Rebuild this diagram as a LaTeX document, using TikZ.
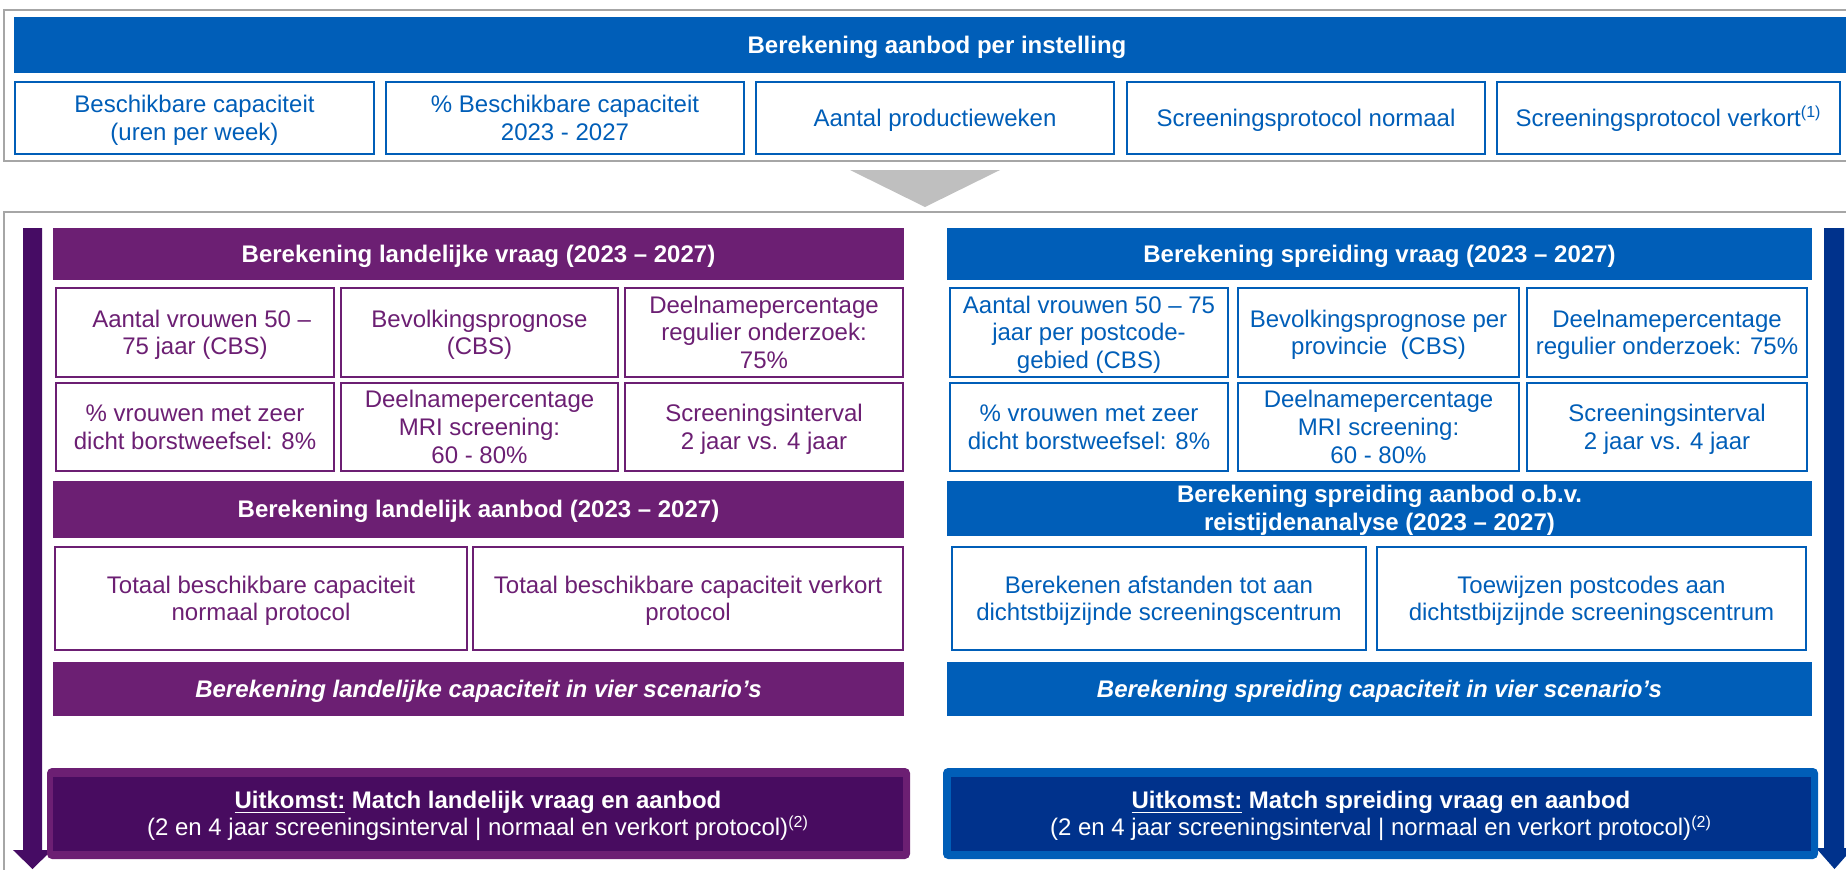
\documentclass[tikz,border=0pt]{standalone}
\usepackage{fontspec}
\setmainfont{Liberation Sans}
\definecolor{cblue}{RGB}{0,94,184}
\definecolor{cpurple}{RGB}{108,31,115}
\definecolor{cdpurple}{RGB}{72,12,96}
\definecolor{carrowp}{RGB}{70,12,100}
\definecolor{cdblue}{RGB}{0,50,140}
\definecolor{cgray}{RGB}{166,166,166}
\definecolor{cchev}{RGB}{191,191,191}
\newcommand{\pstrut}{\rule[-2.5pt]{0pt}{13.4pt}}
\newcommand{\ulk}[1]{\underline{#1}}
\newcommand{\bx}[7]{\node[#1, anchor=north west, minimum width={(#5-#3)*0.5pt}, minimum height={(#6-#4)*0.5pt}] (#2) at (#3,#4) {#7};}
\begin{document}
\begin{tikzpicture}[x=0.5pt,y=-0.5pt,
  every node/.style={inner sep=0pt, outer sep=0pt, align=center, font=\fontsize{12}{13.8}\selectfont},
  frame/.style={draw=cgray, line width=1pt},
  bhead/.style={fill=cblue, text=white, font=\fontsize{12}{14}\selectfont\bfseries},
  phead/.style={fill=cpurple, text=white, font=\fontsize{12}{14}\selectfont\bfseries},
  bital/.style={fill=cblue, text=white, font=\fontsize{12}{14}\selectfont\bfseries\itshape},
  pital/.style={fill=cpurple, text=white, font=\fontsize{12}{14}\selectfont\bfseries\itshape},
  bbox/.style={draw=cblue, line width=1.2pt, fill=white, text=cblue},
  pbox/.style={draw=cpurple, line width=1.2pt, fill=white, text=cpurple},
  outer/.style={rounded corners=2.5pt},
  inner/.style={text=white, font=\fontsize{12}{13.5}\selectfont}
]
\useasboundingbox (0,0) rectangle (1846,869);
% frames
\bx{frame}{topframe}{4}{10}{1870}{161}{}
\bx{frame}{lowframe}{4}{212}{1870}{900}{}
% top section
\bx{bhead}{h0}{14}{17}{1860}{73}{\pstrut Berekening aanbod per instelling\pstrut}
\bx{bbox}{t1}{15}{82}{374}{154}{\pstrut Beschikbare capaciteit\\(uren per week)\pstrut}
\bx{bbox}{t2}{386}{82}{744}{154}{\pstrut\% Beschikbare capaciteit\\2023 - 2027\pstrut}
\bx{bbox}{t3}{756}{82}{1114}{154}{\pstrut Aantal productieweken\pstrut}
\bx{bbox}{t4}{1127}{82}{1485}{154}{\pstrut Screeningsprotocol normaal\pstrut}
\bx{bbox}{t5}{1497}{82}{1840}{154}{\pstrut Screeningsprotocol verkort\textsuperscript{(1)}\pstrut}
% chevron
\fill[cchev] (850,170) -- (1000,170) -- (925,207) -- cycle;
% side arrows
\fill[carrowp] (23,228) -- (42,228) -- (42,850) -- (52,850) -- (32.5,869) -- (13,850) -- (23,850) -- cycle;
\fill[cdblue] (1824,228) -- (1844,228) -- (1844,848) -- (1853,848) -- (1834.5,869) -- (1816,848) -- (1824,848) -- cycle;
% left column
\bx{phead}{lh1}{53}{228}{904}{280}{\pstrut Berekening landelijke vraag (2023 – 2027)\pstrut}
\bx{pbox}{la1}{56}{288}{334}{377}{\pstrut\ \ Aantal vrouwen 50 –\\75 jaar (CBS)\pstrut}
\bx{pbox}{la2}{341}{288}{618}{377}{\pstrut Bevolkingsprognose\\(CBS)\pstrut}
\bx{pbox}{la3}{625}{288}{903}{377}{\pstrut Deelnamepercentage\\regulier onderzoek:\\75\%\pstrut}
\bx{pbox}{lb1}{56}{383}{334}{471}{\pstrut\% vrouwen met zeer\\dicht borstweefsel: 8\%\pstrut}
\bx{pbox}{lb2}{341}{383}{618}{471}{\pstrut Deelnamepercentage\\MRI screening:\\60 - 80\%\pstrut}
\bx{pbox}{lb3}{625}{383}{903}{471}{\pstrut Screeningsinterval\\2 jaar vs. 4 jaar\pstrut}
\bx{phead}{lh2}{53}{481}{904}{538}{\pstrut Berekening landelijk aanbod (2023 – 2027)\pstrut}
\bx{pbox}{lc1}{55}{547}{467}{650}{\pstrut Totaal beschikbare capaciteit\\normaal protocol\pstrut}
\bx{pbox}{lc2}{473}{547}{903}{650}{\pstrut Totaal beschikbare capaciteit verkort\\protocol\pstrut}
\bx{pital}{li}{53}{662}{904}{716}{\pstrut Berekening landelijke capaciteit in vier scenario’s\pstrut}
\bx{outer, fill=cpurple}{lo}{47}{768}{910}{859}{}
\bx{inner, fill=cdpurple}{loi}{53}{777}{903}{851}{\pstrut{\bfseries\ulk{Uitkomst:} Match landelijk vraag en aanbod}\\(2 en 4 jaar screeningsinterval | normaal en verkort protocol)\textsuperscript{(2)}\pstrut}
% right column
\bx{bhead}{rh1}{947}{228}{1812}{280}{\pstrut Berekening spreiding vraag (2023 – 2027)\pstrut}
\bx{bbox}{ra1}{950}{288}{1228}{377}{\pstrut Aantal vrouwen 50 – 75\\jaar per postcode-\\gebied (CBS)\pstrut}
\bx{bbox}{ra2}{1238}{288}{1519}{377}{\pstrut Bevolkingsprognose per\\provincie\ \ (CBS)\pstrut}
\bx{bbox}{ra3}{1527}{288}{1807}{377}{\pstrut Deelnamepercentage\\regulier onderzoek: 75\%\pstrut}
\bx{bbox}{rb1}{950}{383}{1228}{471}{\pstrut\% vrouwen met zeer\\dicht borstweefsel: 8\%\pstrut}
\bx{bbox}{rb2}{1238}{383}{1519}{471}{\pstrut Deelnamepercentage\\MRI screening:\\60 - 80\%\pstrut}
\bx{bbox}{rb3}{1527}{383}{1807}{471}{\pstrut Screeningsinterval\\2 jaar vs. 4 jaar\pstrut}
\bx{bhead}{rh2}{947}{481}{1812}{534}{\pstrut Berekening spreiding aanbod o.b.v.\\reistijdenanalyse (2023 – 2027)\pstrut}
\bx{bbox}{rc1}{952}{547}{1366}{650}{\pstrut Berekenen afstanden tot aan\\dichtstbijzijnde screeningscentrum\pstrut}
\bx{bbox}{rc2}{1377}{547}{1806}{650}{\pstrut Toewijzen postcodes aan\\dichtstbijzijnde screeningscentrum\pstrut}
\bx{bital}{ri}{947}{662}{1812}{716}{\pstrut Berekening spreiding capaciteit in vier scenario’s\pstrut}
\bx{outer, fill=cblue}{ro}{943}{768}{1818}{859}{}
\bx{inner, fill=cdblue}{roi}{951}{777}{1811}{851}{\pstrut{\bfseries\ulk{Uitkomst:} Match spreiding vraag en aanbod}\\(2 en 4 jaar screeningsinterval | normaal en verkort protocol)\textsuperscript{(2)}\pstrut}
\end{tikzpicture}
\end{document}
